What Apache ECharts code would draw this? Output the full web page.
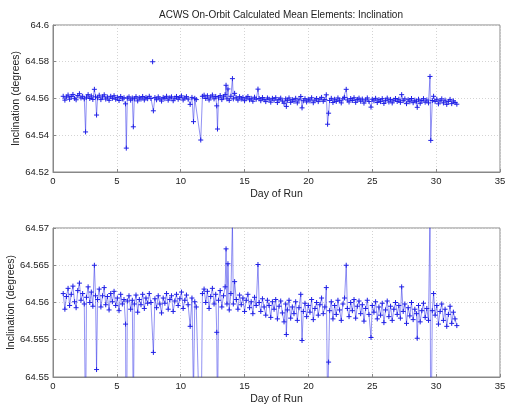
<!DOCTYPE html>
<html>
<head>
<meta charset="utf-8">
<script src="https://cdn.jsdelivr.net/npm/echarts@6/dist/echarts.min.js"></script>
<style>
  html, body { margin: 0; padding: 0; background: #fff; }
  #chart { width: 505px; height: 406px; }
</style>
</head>
<body>
<div id="chart"></div>
<script>
// Mean-element inclination samples over the run (day, degrees)
var dayOfRun = [
  0.80, 0.93, 1.05, 1.18, 1.30, 1.43, 1.56, 1.69, 1.81, 1.94, 2.07, 2.19, 2.32, 2.45, 2.55, 2.62, 2.75, 2.88,
  3.00, 3.12, 3.24, 3.33, 3.41, 3.49, 3.62, 3.75, 3.88, 4.01, 4.13, 4.26, 4.39, 4.52, 4.65, 4.78, 4.91,
  5.04, 5.17, 5.30, 5.43, 5.56, 5.68, 5.74, 5.82, 5.95, 6.08, 6.21, 6.29, 6.37, 6.50, 6.63, 6.76, 6.89,
  7.02, 7.15, 7.28, 7.41, 7.54, 7.67, 7.86, 7.98, 8.11, 8.24, 8.37, 8.50, 8.63, 8.76, 8.89,
  9.02, 9.15, 9.28, 9.41, 9.54, 9.67, 9.80, 9.93, 10.06, 10.19, 10.32, 10.45, 10.58, 10.74, 10.88,
  11.00, 11.10, 11.22, 11.57, 11.70, 11.83, 11.96, 12.09, 12.22, 12.35, 12.48, 12.61, 12.74, 12.82, 12.88, 12.96,
  13.09, 13.22, 13.35, 13.48, 13.55, 13.62, 13.70, 13.80, 13.93, 14.05, 14.12, 14.22, 14.35, 14.48, 14.61, 14.74, 14.87,
  15.00, 15.13, 15.26, 15.39, 15.52, 15.65, 15.78, 15.91, 16.05, 16.14, 16.27, 16.40, 16.53, 16.66, 16.79, 16.92,
  17.05, 17.18, 17.31, 17.44, 17.57, 17.70, 17.83, 17.96, 18.09, 18.22, 18.27, 18.35, 18.48, 18.61, 18.74, 18.87,
  19.00, 19.13, 19.26, 19.40, 19.50, 19.60, 19.73, 19.86, 19.99, 20.12, 20.25, 20.38, 20.51, 20.64, 20.77, 20.90,
  21.03, 21.16, 21.29, 21.40, 21.50, 21.58, 21.66, 21.79, 21.92, 22.05, 22.18, 22.31, 22.44, 22.57, 22.70, 22.83, 22.96,
  23.05, 23.18, 23.31, 23.44, 23.57, 23.70, 23.83, 23.96, 24.09, 24.22, 24.35, 24.48, 24.61, 24.74, 24.90,
  25.00, 25.13, 25.26, 25.39, 25.52, 25.65, 25.78, 25.91, 26.04, 26.17, 26.30, 26.43, 26.56, 26.69, 26.82, 26.95,
  27.08, 27.20, 27.30, 27.42, 27.55, 27.68, 27.81, 27.94, 28.07, 28.20, 28.33, 28.46, 28.52, 28.62, 28.75, 28.88,
  29.01, 29.14, 29.27, 29.40, 29.52, 29.58, 29.70, 29.80, 29.92, 30.05, 30.18, 30.31, 30.44, 30.57, 30.70, 30.83,
  30.96, 31.09, 31.22, 31.35, 31.48, 31.62
];
var inclination = [
  64.5612, 64.5591, 64.5608, 64.5619, 64.5596, 64.5611, 64.5622, 64.5601, 64.5593, 64.5616, 64.5626, 64.5603, 64.5612, 64.5598, 64.5418, 64.5607, 64.5621, 64.5600,
  64.5614, 64.5595, 64.5650, 64.5609, 64.5510, 64.5604, 64.5618, 64.5594, 64.5609, 64.5620, 64.5597, 64.5608, 64.5590, 64.5612, 64.5601, 64.5615, 64.5596,
  64.5606, 64.5589, 64.5611, 64.5598, 64.5604, 64.5571, 64.5330, 64.5602, 64.5609, 64.5591, 64.5603, 64.5446, 64.5598, 64.5610, 64.5587, 64.5604, 64.5597,
  64.5611, 64.5592, 64.5606, 64.5599, 64.5612, 64.5600, 64.5533, 64.5605, 64.5593, 64.5609, 64.5598, 64.5586, 64.5606, 64.5599, 64.5612,
  64.5591, 64.5604, 64.5609, 64.5588, 64.5602, 64.5611, 64.5596, 64.5605, 64.5614, 64.5592, 64.5603, 64.5610, 64.5597, 64.5568, 64.5606,
  64.5474, 64.5601, 64.5594, 64.5374, 64.5612, 64.5618, 64.5600, 64.5615, 64.5592, 64.5608, 64.5619, 64.5598, 64.5611, 64.5560, 64.5434, 64.5603,
  64.5616, 64.5594, 64.5609, 64.5621, 64.5672, 64.5598, 64.5652, 64.5590, 64.5612, 64.5708, 64.5598, 64.5628, 64.5604, 64.5591, 64.5610, 64.5597, 64.5606,
  64.5588, 64.5603, 64.5611, 64.5593, 64.5601, 64.5585, 64.5607, 64.5596, 64.5651, 64.5600, 64.5588, 64.5605, 64.5594, 64.5583, 64.5603, 64.5596,
  64.5580, 64.5601, 64.5591, 64.5604, 64.5578, 64.5595, 64.5602, 64.5586, 64.5574, 64.5598, 64.5557, 64.5590, 64.5603, 64.5579, 64.5594, 64.5585,
  64.5601, 64.5576, 64.5593, 64.5611, 64.5549, 64.5588, 64.5599, 64.5581, 64.5596, 64.5587, 64.5604, 64.5577, 64.5592, 64.5600, 64.5583, 64.5597,
  64.5606, 64.5585, 64.5594, 64.5620, 64.5460, 64.5520, 64.5589, 64.5601, 64.5578, 64.5596, 64.5584, 64.5603, 64.5590, 64.5576, 64.5598, 64.5606, 64.5650,
  64.5592, 64.5581, 64.5600, 64.5589, 64.5604, 64.5579, 64.5595, 64.5602, 64.5585, 64.5597, 64.5575, 64.5592, 64.5603, 64.5584, 64.5553,
  64.5596, 64.5587, 64.5601, 64.5578, 64.5594, 64.5583, 64.5599, 64.5573, 64.5590, 64.5602, 64.5581, 64.5595, 64.5576, 64.5591, 64.5600, 64.5584,
  64.5596, 64.5579, 64.5621, 64.5588, 64.5598, 64.5572, 64.5593, 64.5582, 64.5600, 64.5577, 64.5591, 64.5585, 64.5552, 64.5596, 64.5574, 64.5589,
  64.5599, 64.5580, 64.5592, 64.5576, 64.5720, 64.5372, 64.5589, 64.5612, 64.5583, 64.5596, 64.5571, 64.5588, 64.5598, 64.5576, 64.5591, 64.5568,
  64.5584, 64.5595, 64.5572, 64.5587, 64.5578, 64.5569
];
// A lone solution that is not joined to its neighbours
var strayDay = [7.80];
var strayInclination = [64.580];

// Axis ticks for the two panels
var xTicks = { min: 0, max: 35, interval: 5 };
var topTicks = { min: 64.52, max: 64.6, interval: 0.02 };
var bottomTicks = { min: 64.55, max: 64.57, interval: 0.005 };

var titleText = 'ACWS On-Orbit Calculated Mean Elements: Inclination';
var yName = 'Inclination (degrees)';
var xName = 'Day of Run';

var pairs = dayOfRun.map(function (d, i) { return [d, inclination[i]]; });
var strayPairs = strayDay.map(function (d, i) { return [d, strayInclination[i]]; });

var blue = '#2020e6';
var plus = 'path://M0,5L10,5M5,0L5,10';
var font = 'Liberation Sans, Arial, sans-serif';
var textColor = '#222';

function fmt(v) { return String(+v.toFixed(4)); }

function xAxis(gridIndex) {
  return {
    type: 'value', gridIndex: gridIndex,
    min: xTicks.min, max: xTicks.max, interval: xTicks.interval,
    name: xName, nameLocation: 'middle', nameGap: 17, nameMoveOverlap: false,
    nameTextStyle: { fontSize: 10.5, color: textColor, fontFamily: font },
    axisLine: { show: true, lineStyle: { color: '#888', width: 1 } },
    axisTick: { show: true, inside: true, length: 3, lineStyle: { color: '#888' } },
    axisLabel: { fontSize: 9.5, color: textColor, fontFamily: font, margin: 4, formatter: fmt },
    splitLine: { show: true, lineStyle: { color: '#d4d4d4', type: [1, 2], width: 1 } }
  };
}
function yAxis(gridIndex, t, gap) {
  return {
    type: 'value', gridIndex: gridIndex,
    min: t.min, max: t.max, interval: t.interval,
    name: yName, nameLocation: 'middle', nameGap: gap, nameMoveOverlap: false,
    nameTextStyle: { fontSize: 10.5, color: textColor, fontFamily: font },
    axisLine: { show: true, lineStyle: { color: '#888', width: 1 } },
    axisTick: { show: true, inside: true, length: 3, lineStyle: { color: '#888' } },
    axisLabel: { fontSize: 9.5, color: textColor, fontFamily: font, margin: 4, formatter: fmt },
    splitLine: { show: true, lineStyle: { color: '#d4d4d4', type: [1, 2], width: 1 } }
  };
}
function lineSeries(idx, data) {
  return {
    type: 'line', xAxisIndex: idx, yAxisIndex: idx, data: data,
    clip: true, symbol: plus, symbolSize: 5, showSymbol: true,
    lineStyle: { color: blue, width: 0.7, opacity: 0.7 },
    itemStyle: { color: 'rgba(0,0,0,0)', borderColor: blue, borderWidth: 1 },
    emphasis: { disabled: true }, animation: false
  };
}

var chart = echarts.init(document.getElementById('chart'), null, { renderer: 'canvas' });
chart.setOption({
  backgroundColor: '#fff',
  animation: false,
  title: {
    text: titleText, left: 276, top: 5, textAlign: 'center',
    textStyle: { fontSize: 10, fontWeight: 'normal', color: textColor, fontFamily: font }
  },
  grid: [
    { left: 53, right: 5, top: 25, height: 147, show: true, borderColor: '#888', borderWidth: 1,
      containLabel: false, outerBoundsMode: 'none' },
    { left: 53, right: 5, top: 228, height: 149, show: true, borderColor: '#888', borderWidth: 1,
      containLabel: false, outerBoundsMode: 'none' }
  ],
  xAxis: [xAxis(0), xAxis(1)],
  yAxis: [yAxis(0, topTicks, 31), yAxis(1, bottomTicks, 36)],
  series: [
    lineSeries(0, pairs),
    lineSeries(0, strayPairs),
    lineSeries(1, pairs),
    lineSeries(1, strayPairs)
  ]
});
</script>
</body>
</html>
